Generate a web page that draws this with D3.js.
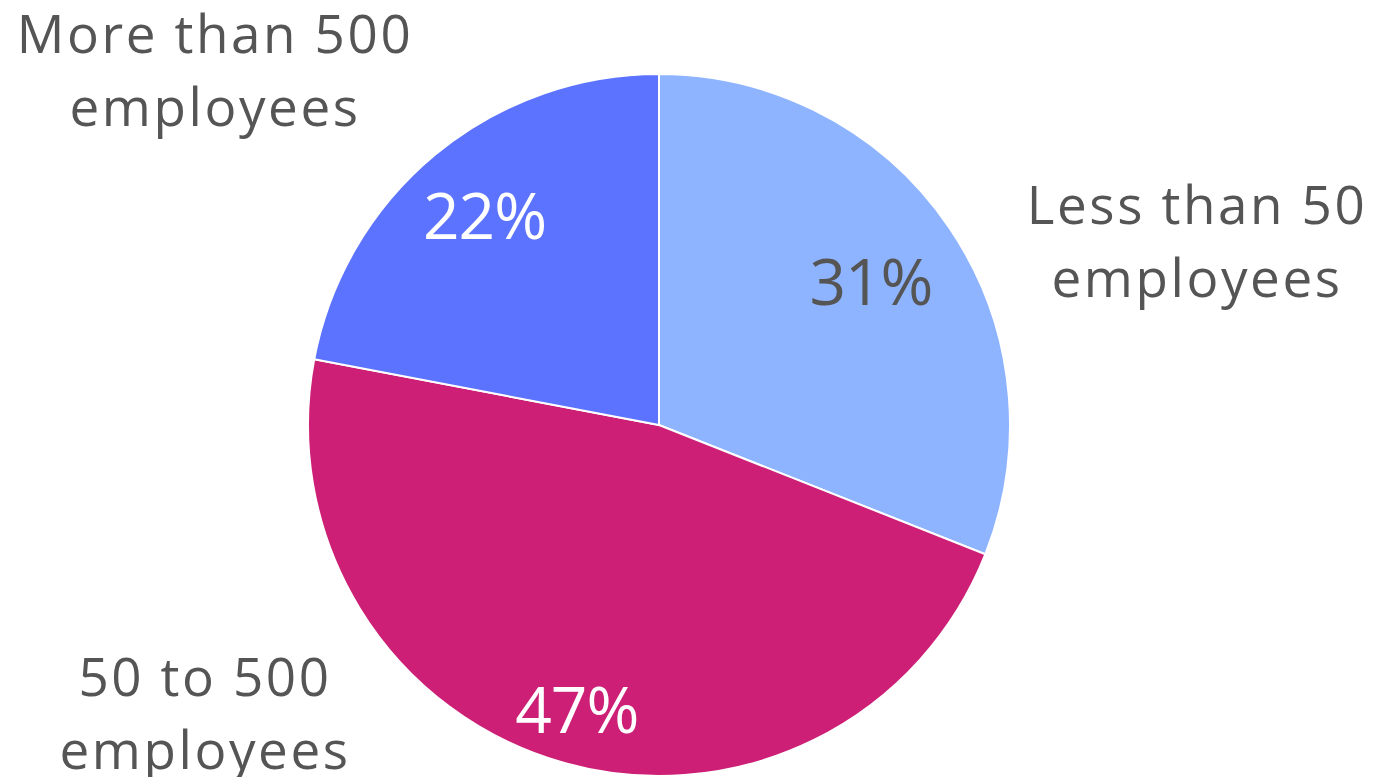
<!DOCTYPE html>
<html>
<head>
<meta charset="utf-8">
<script src="https://cdn.jsdelivr.net/npm/d3@7"></script>
<style>
  body { margin: 0; background: #fff; }
  svg text { font-family: "Open Sans", sans-serif; }
</style>
</head>
<body>
<svg id="chart"></svg>
<script>
const categories = ["Less than 50 employees", "50 to 500 employees", "More than 500 employees"];
const labelLines = [["Less than 50", "employees"], ["50 to 500", "employees"], ["More than 500", "employees"]];
const values = [31, 47, 22];
const colors = ["#8FB4FF", "#CC1F75", "#5C73FF"];
const pctColors = ["#555555", "#ffffff", "#ffffff"];

const width = 1374, height = 777;
const cx = 659, cy = 425, r = 351;

const svg = d3.select("#chart").attr("width", width).attr("height", height);
const g = svg.append("g").attr("transform", `translate(${cx},${cy})`);

const pie = d3.pie().sort(null).value(d => d);
const arcs = pie(values);
const arc = d3.arc().innerRadius(0).outerRadius(r);

g.selectAll("path")
    .data(arcs)
    .join("path")
    .attr("d", arc)
    .attr("fill", (d, i) => colors[i])
    .attr("stroke", "#fff")
    .attr("stroke-width", 2);

// percent labels inside slices
const pctRadius = [0.73, 0.84, 0.78];
g.selectAll("text.pct")
    .data(arcs)
    .join("text")
    .attr("class", "pct")
    .attr("transform", (d, i) => {
        const a = d3.arc().innerRadius(r * pctRadius[i]).outerRadius(r * pctRadius[i]);
        return `translate(${a.centroid(d)})`;
    })
    .attr("text-anchor", "middle")
    .attr("dominant-baseline", "central")
    .attr("font-size", 64)
    .attr("letter-spacing", -1)
    .attr("fill", (d, i) => pctColors[i])
    .text(d => d.data + "%");

// category labels outside the pie (placed as in the original layout)
const labelPos = [[538, -182], [-454, 290], [-444, -353]];
const lab = g.selectAll("text.cat")
    .data(arcs)
    .join("text")
    .attr("class", "cat")
    .attr("text-anchor", "middle")
    .attr("font-size", 53)
    .attr("letter-spacing", 2.6)
    .attr("fill", "#555555")
    .attr("transform", (d, i) => `translate(${labelPos[i]})`);

lab.selectAll("tspan")
    .data((d, i) => labelLines[i])
    .join("tspan")
    .attr("x", 0)
    .attr("y", (d, j) => j === 0 ? -19 : 54)
    .text(d => d);
</script>
</body>
</html>
